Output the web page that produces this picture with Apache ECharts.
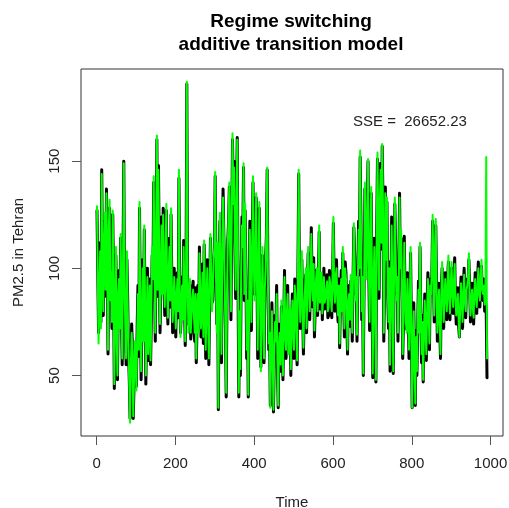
<!DOCTYPE html>
<html>
<head>
<meta charset="utf-8">
<script src="https://cdn.jsdelivr.net/npm/echarts@6/dist/echarts.min.js"></script>
<style>
html,body{margin:0;padding:0;background:#fff;}
#chart{width:509px;height:508px;}
</style>
</head>
<body>
<div id="chart"></div>
<script>
// Time index: first value and spacing (values read every 2 time steps)
const timeStart = 1;
const timeStep = 2;

// Observed PM2.5 (black)
const observed = [
  127,98, 70,85, 112,75, 146,102, 78,115, 122,87, 137,104, 60,115, 128,88, 104,72, 125,95, 44,77, 106,70, 48,85, 99,75, 114,80, 55,104, 150,89, 74,55, 104,85, 60,48, 30,52, 74,63, 30,45, 62,61,
  45,73, 92,59, 128,83, 48,72, 104,69, 118,82, 46,75, 100,57, 72,95, 55,77, 106,98, 140,97, 66,118, 160,87, 148,108, 70,92, 124,91, 128,93, 78,108, 127,87, 74,101, 114,82, 125,95, 70,79, 100,85,
  68,88, 98,77, 142,93, 70,79, 96,79, 113,85, 64,95, 186,93, 74,87, 92,67, 72,89, 94,75, 66,91, 56,73, 92,73, 110,87, 68,87, 102,65, 111,95, 58,82, 104,77, 55,89, 114,99, 84,85, 100,107,
  143,101, 74,109, 34,88, 122,92, 56,107, 137,115, 100,73, 40,85, 113,122, 138,111, 76,119, 160,133, 150,112, 86,131, 161,92, 40,83, 50,97, 124,113, 147,85, 127,99, 58,82, 40,79, 122,97, 71,113, 140,99,
  88,102, 133,98, 58,97, 128,91, 54,75, 106,83, 56,87, 104,115, 146,95, 62,73, 36,59, 84,61, 33,57, 78,69, 92,55, 35,67, 74,52, 82,75, 48,73, 99,71, 58,77, 92,63, 66,79, 50,75, 88,67,
  58,95, 90,67, 55,97, 144,91, 72,89, 104,81, 60,79, 94,97, 70,91, 107,91, 76,93, 119,93, 82,105, 68,83, 99,97, 78,95, 117,81, 92,95, 76,89, 100,81, 82,93, 97,77, 78,99, 96,82, 77,95,
  121,93, 80,99, 104,83, 75,95, 63,85, 99,83, 107,87, 68,103, 98,77, 60,87, 92,73, 94,89, 66,95, 119,107, 88,93, 66,95, 122,97, 152,123, 76,93, 50,93, 137,112, 99,128, 150,97, 71,113, 135,92,
  49,95, 114,77, 47,118, 151,117, 86,133, 149,109, 157,131, 66,95, 138,107, 131,89, 72,103, 52,85, 124,88, 51,93, 130,111, 88,93, 66,93, 135,97, 114,95, 58,75, 115,87, 72,73, 98,81, 58,83, 107,75,
  35,65, 84,58, 36,71, 50,72, 94,73, 110,79, 56,78, 47,73, 88,69, 57,83, 98,75, 62,95, 91,97, 122,99, 75,107, 120,91, 66,83, 93,71, 58,91, 100,87, 72,87, 98,85, 76,95, 103,83, 76,95,
  100,91, 79,97, 105,82, 74,87, 91,73, 68,85, 96,83, 72,91, 100,81, 77,93, 95,93, 104,91, 75,81, 93,85, 74,87, 98,83, 79,95, 103,85, 82,99, 101,87, 85,95, 80,86, 80, 49
];

// Fitted values of the regime switching additive transition model (green)
const fitted = [
  129,95, 65,88, 108,72, 144,105, 80,112, 126,90, 135,100, 62,118, 132,85, 98,75, 127,92, 46,80, 110,68, 50,88, 95,72, 116,84, 58,100, 149,92, 70,58, 108,82, 62,45, 28,55, 70,60, 31,48, 66,58,
  43,70, 88,62, 131,80, 52,75, 100,66, 120,85, 50,72, 96,60, 75,92, 57,80, 110,95, 143,100, 70,115, 162,90, 146,105, 74,95, 120,88, 125,96, 82,105, 130,90, 77,98, 110,85, 128,92, 75,82, 96,88,
  72,85, 95,80, 146,90, 68,82, 92,76, 110,88, 66,92, 187,96, 70,84, 95,70, 78,86, 90,78, 70,88, 58,76, 88,70, 107,90, 72,84, 98,68, 113,92, 62,85, 100,74, 58,92, 116,96, 80,88, 104,110,
  145,98, 70,112, 35,85, 126,95, 60,104, 133,118, 95,70, 42,88, 110,125, 140,108, 80,122, 163,130, 147,115, 90,128, 160,95, 42,80, 53,100, 120,110, 149,88, 130,96, 62,85, 41,76, 118,100, 75,110, 143,102,
  85,105, 135,95, 62,100, 131,88, 52,78, 110,80, 58,90, 100,118, 147,92, 65,70, 35,62, 80,58, 34,60, 75,66, 88,58, 36,64, 70,55, 85,72, 50,76, 96,68, 62,80, 88,60, 70,82, 53,72, 85,70,
  62,92, 86,70, 57,100, 146,88, 75,92, 108,78, 63,82, 90,100, 72,88, 110,94, 80,90, 116,96, 85,102, 71,86, 95,100, 80,92, 120,84, 88,98, 79,86, 96,84, 86,90, 94,80, 82,96, 93,85, 80,98,
  124,90, 84,96, 100,86, 78,92, 65,88, 95,80, 110,90, 72,100, 95,80, 62,84, 88,76, 97,86, 70,98, 121,104, 85,96, 69,92, 118,100, 155,120, 80,96, 51,90, 140,115, 95,125, 151,100, 75,110, 138,95,
  51,92, 110,80, 48,115, 154,120, 90,130, 146,112, 158,128, 70,98, 135,104, 133,92, 75,100, 55,88, 120,85, 52,96, 133,108, 85,96, 70,90, 133,100, 118,92, 60,78, 112,90, 75,70, 95,84, 62,80, 110,72,
  35,62, 80,55, 37,68, 52,75, 90,70, 112,82, 60,75, 48,70, 85,72, 60,80, 95,78, 65,92, 88,100, 125,96, 78,110, 123,88, 70,80, 90,74, 60,88, 103,90, 75,84, 95,88, 80,92, 106,86, 79,92,
  103,88, 82,94, 102,85, 78,84, 88,76, 68,82, 93,86, 75,88, 97,84, 80,90, 92,96, 107,88, 78,84, 90,82, 77,90, 95,86, 82,92, 100,88, 85,96, 104,90, 88,92, 83,90, 152, 58
];

const xTicks = [0, 200, 400, 600, 800, 1000];
const yTicks = [50, 100, 150];
const titleLines = ['Regime switching', 'additive transition model'];
const sseText = 'SSE =  26652.23';

const toPairs = arr => arr.map((v, i) => [timeStart + i * timeStep, v]);

const font = 'Liberation Sans, Arial, Helvetica, sans-serif';
const chart = echarts.init(document.getElementById('chart'), null, {renderer: 'canvas'});
chart.setOption({
  animation: false,
  backgroundColor: '#fff',
  grid: {left: 81, right: 6, top: 69, bottom: 72, show: true, borderColor: '#333', borderWidth: 1,
         containLabel: false, outerBoundsMode: 'none'},
  xAxis: {
    type: 'value', min: -39.6, max: 1031.6,
    name: 'Time', nameLocation: 'middle', nameGap: 59,
    nameTextStyle: {fontFamily: font, fontSize: 15, color: '#222'},
    axisLine: {show: false, onZero: false},
    axisTick: {show: true, length: 9, lineStyle: {color: '#555'}, customValues: xTicks},
    axisLabel: {fontFamily: font, fontSize: 15, color: '#222', margin: 20, customValues: xTicks,
                formatter: v => String(v)},
    splitLine: {show: false}
  },
  yAxis: {
    type: 'value', min: 21.8, max: 193,
    name: 'PM2.5 in Tehran', nameLocation: 'middle', nameGap: 55,
    nameTextStyle: {fontFamily: font, fontSize: 15, color: '#222'},
    axisLine: {show: false, onZero: false},
    axisTick: {show: true, length: 9, lineStyle: {color: '#555'}, customValues: yTicks},
    axisLabel: {fontFamily: font, fontSize: 15, color: '#222', margin: 19, rotate: 90, customValues: yTicks,
                formatter: v => String(v)},
    splitLine: {show: false}
  },
  graphic: [
    {type: 'text', x: 291, y: 22,
     style: {text: titleLines[0], font: 'bold 19px ' + font, fill: '#000', align: 'center', verticalAlign: 'middle'}},
    {type: 'text', x: 291, y: 45,
     style: {text: titleLines[1], font: 'bold 19px ' + font, fill: '#000', align: 'center', verticalAlign: 'middle'}},
    {type: 'text', x: 353, y: 122,
     style: {text: sseText, font: '15px ' + font, fill: '#222', align: 'left', verticalAlign: 'middle'}}
  ],
  series: [
    {type: 'line', data: toPairs(observed), showSymbol: false, sampling: 'none',
     lineStyle: {color: '#000', width: 3, cap: 'round', join: 'round'}, z: 2},
    {type: 'line', data: toPairs(fitted), showSymbol: false, sampling: 'none',
     lineStyle: {color: '#00ff00', width: 2, cap: 'round', join: 'round'}, z: 3}
  ]
});
</script>
</body>
</html>
